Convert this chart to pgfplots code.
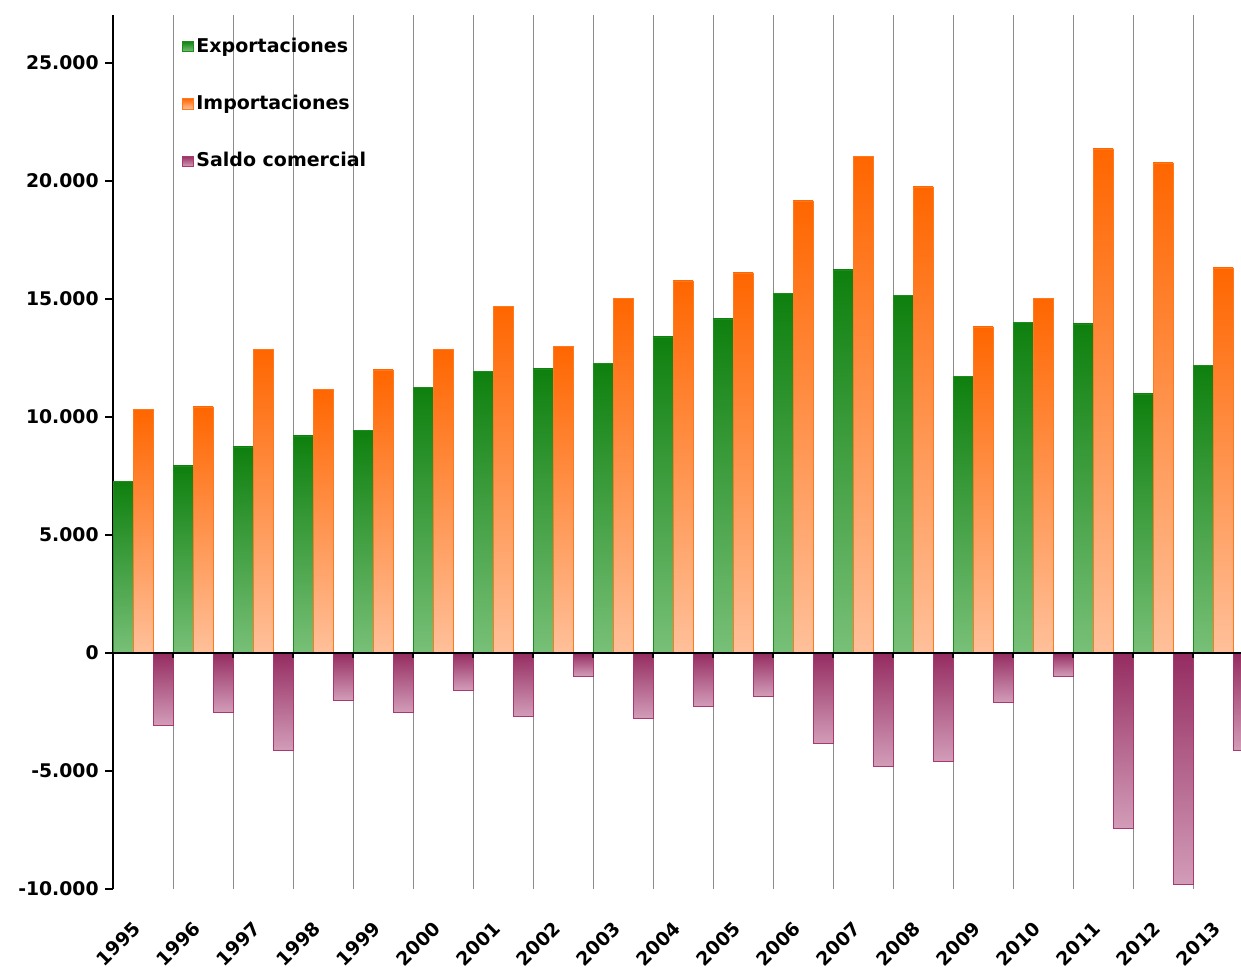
\documentclass[border=0pt]{standalone}
\usepackage{fontspec}
\setmainfont{DejaVu Sans}
\usepackage{pgfplots}
\usepackage{pgfplotstable}
\pgfplotsset{compat=1.18}
\definecolor{gtop}{HTML}{0E800E}
\definecolor{gbot}{HTML}{78C078}
\definecolor{gbord}{HTML}{1C8C1C}
\definecolor{otop}{HTML}{FF6600}
\definecolor{obot}{HTML}{FFC09A}
\definecolor{obord}{HTML}{FF7A1E}
\definecolor{ptop}{HTML}{952C61}
\definecolor{pbot}{HTML}{D29CB8}
\definecolor{pbord}{HTML}{A8386E}
\pgfplotstableread{
x e i s
0 7288 10339 -3051
1 7924 10424 -2500
2 8729 12881 -4110
3 9195 11186 -1992
4 9449 11992 -2500
5 11271 12881 -1568
6 11949 14703 -2669
7 12034 13008 -975
8 12288 15042 -2754
9 13390 15763 -2246
10 14153 16102 -1822
11 15254 19153 -3814
12 16229 21059 -4788
13 15169 19746 -4576
14 11737 13814 -2076
15 14025 15042 -975
16 13941 21356 -7415
17 10975 20763 -9788
18 12203 16314 -4110
}\data
\newcommand{\tl}{\fontsize{9.4}{11}\selectfont\bfseries}
\begin{document}
\begin{tikzpicture}
\useasboundingbox (0,0) rectangle (620.5pt,485pt);
\begin{axis}[
  at={(56.5pt,40.5pt)}, anchor=south west,
  scale only axis, width=564pt, height=437pt,
  xmin=-0.5, xmax=18.3, ymin=-10000, ymax=27034,
  axis lines*=left, x axis line style={draw=none},
  y axis line style={line width=0.8pt},
  xtick={0,...,18},
  xticklabels={1995,1996,1997,1998,1999,2000,2001,2002,2003,2004,2005,2006,2007,2008,2009,2010,2011,2012,2013},
  xtick style={draw=none},
  minor xtick={0.5,1.5,...,17.5},
  xminorgrids=true,
  minor grid style={black!45, line width=0.5pt},
  minor tick length=0pt,
  ytick={-10000,-5000,0,5000,10000,15000,20000,25000},
  yticklabels={{\tl -10.000},{\tl -5.000},{\tl 0},{\tl 5.000},{\tl 10.000},{\tl 15.000},{\tl 20.000},{\tl 25.000}},
  tick align=outside, major tick length=4pt,
  ytick style={black, line width=0.6pt},
  xticklabel style={font=\tl, xshift=-3pt, rotate=45, anchor=east, inner sep=0pt},
  xticklabel shift=14pt,
  yticklabel style={font=\tl, xshift=-1pt, inner sep=2pt},
  legend style={at={(0.061,0.978)}, anchor=north west, draw=none, fill=none,
    font=\bfseries\fontsize{9.5}{11}\selectfont, row sep=17pt,
    inner sep=0pt, nodes={inner sep=1.5pt, xshift=3pt}},
  legend cell align=left,
  clip=true,
]
\addlegendimage{legend image code/.code={\path[draw=gbord, top color=gtop, bottom color=gbot] (0.5pt,-2.6pt) rectangle (5.7pt,2.6pt);}}
\addlegendentry{Exportaciones}
\addlegendimage{legend image code/.code={\path[draw=obord, top color=otop, bottom color=obot] (0.5pt,-2.6pt) rectangle (5.7pt,2.6pt);}}
\addlegendentry{Importaciones}
\addlegendimage{legend image code/.code={\path[draw=pbord, top color=ptop, bottom color=pbot] (0.5pt,-2.6pt) rectangle (5.7pt,2.6pt);}}
\addlegendentry{Saldo comercial}
\pgfplotsinvokeforeach{0,...,18}{
\addplot[ybar, bar width=10pt, bar shift=-10pt, draw=gbord, line width=0.4pt, top color=gtop, bottom color=gbot, forget plot, restrict x to domain=#1:#1] table[x=x,y=e]{\data};
\addplot[ybar, bar width=10pt, bar shift=0pt, draw=obord, line width=0.4pt, top color=otop, bottom color=obot, forget plot, restrict x to domain=#1:#1] table[x=x,y=i]{\data};
\addplot[ybar, bar width=10pt, bar shift=10pt, draw=pbord, line width=0.4pt, top color=ptop, bottom color=pbot, forget plot, restrict x to domain=#1:#1] table[x=x,y=s]{\data};
}
\draw[black, line width=0.8pt] (axis cs:-0.5,0) -- (axis cs:18.3,0);
\pgfplotsinvokeforeach{0.5,1.5,...,17.5}{\draw[black, line width=0.8pt] (axis cs:#1,0) -- ([yshift=-2.5pt]axis cs:#1,0);}
\end{axis}
\end{tikzpicture}
\end{document}
